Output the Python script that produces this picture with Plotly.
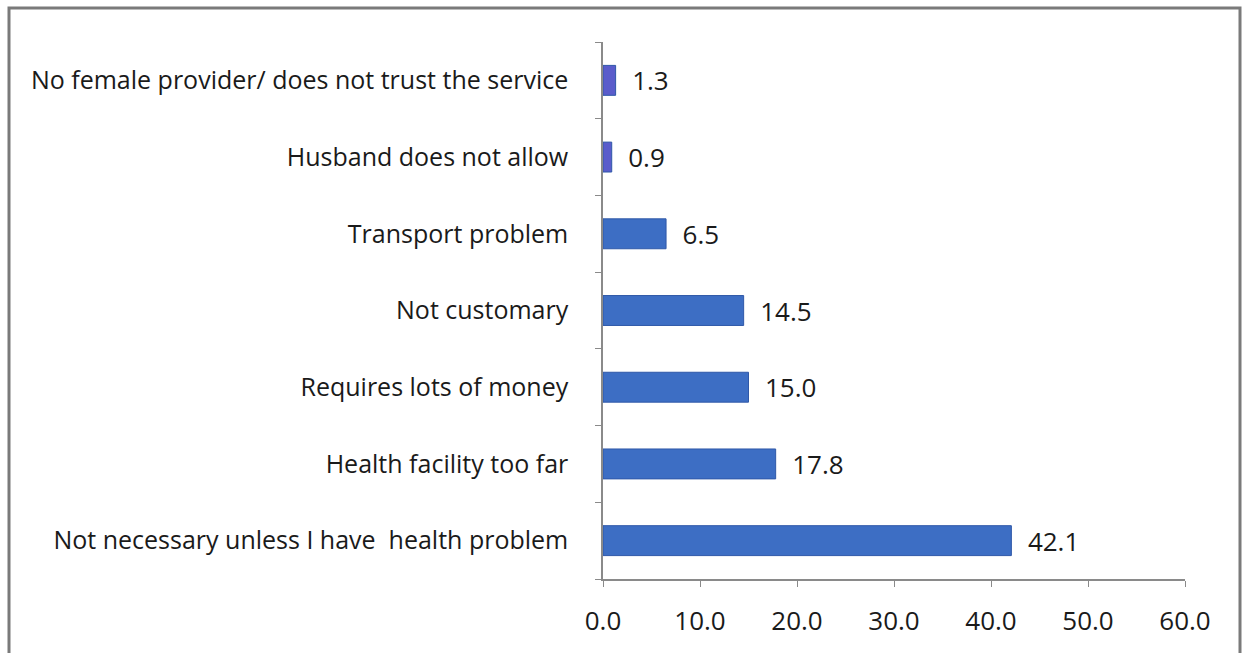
import plotly.graph_objects as go

categories = [
    "Not necessary unless I have  health problem",
    "Health facility too far",
    "Requires lots of money",
    "Not customary",
    "Transport problem",
    "Husband does not allow",
    "No female provider/ does not trust the service",
]
values = [42.1, 17.8, 15.0, 14.5, 6.5, 0.9, 1.3]
bar_colors = ["#3d6ec4", "#3d6ec4", "#3d6ec4", "#3d6ec4", "#3d6ec4", "#5a5ccb", "#5a5ccb"]
x_ticks = [0, 10, 20, 30, 40, 50, 60]

W, H = 1243, 653
L, R, T, B = 603, 1185, 42, 579
FONT = "Open Sans, Liberation Sans, Arial, sans-serif"

fig = go.Figure(go.Bar(
    y=categories,
    x=values,
    orientation="h",
    marker=dict(color=bar_colors, line=dict(color="#2f58a8", width=1)),
    width=0.39,
    text=["  " + f"{v:.1f}" for v in values],
    textposition="outside",
    constraintext="none",
    cliponaxis=False,
    textfont=dict(family=FONT, size=26, color="#1a1a1a"),
))

pw, ph = R - L, B - T
fig.add_shape(
    type="rect", xref="paper", yref="paper",
    x0=(9 - L) / pw, x1=(1240 - L) / pw,
    y0=(B - 660) / ph, y1=(B - 8) / ph,
    line=dict(color="#7a7a7a", width=3), fillcolor="rgba(0,0,0,0)", layer="below",
)

fig.update_layout(
    width=W, height=H,
    margin=dict(l=L, r=W - R, t=T, b=H - B, pad=0),
    paper_bgcolor="white", plot_bgcolor="white",
    showlegend=False,
    font=dict(family=FONT, size=25, color="#1a1a1a"),
    xaxis=dict(
        range=[0, 60], tickvals=x_ticks, ticktext=[f"{v:.1f}" for v in x_ticks],
        showgrid=False, zeroline=False, showline=True, linecolor="#8a8a8a", linewidth=1.5,
        ticks="outside", ticklen=6, tickcolor="#8a8a8a", ticklabelstandoff=12,
        tickfont=dict(size=26),
    ),
    yaxis=dict(
        type="category", showgrid=False, zeroline=False, showline=True,
        linecolor="#8a8a8a", linewidth=1.5, ticks="outside", ticklen=6,
        tickcolor="#8a8a8a", tickson="boundaries", ticklabelstandoff=28,
        tickfont=dict(size=25),
    ),
)

fig.write_html("out.html")
